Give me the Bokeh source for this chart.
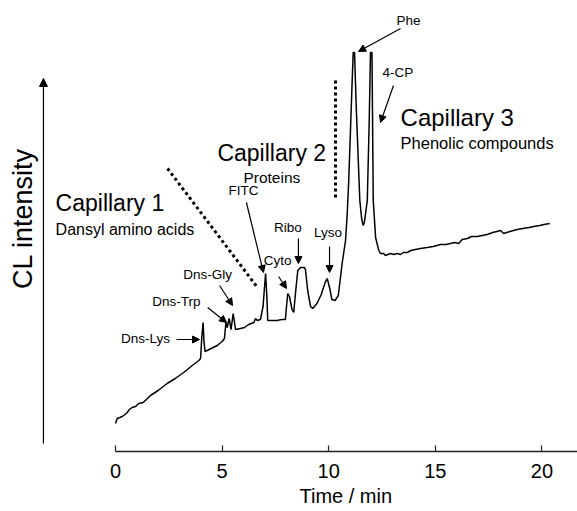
from math import pi
from bokeh.plotting import figure
from bokeh.models import Label, Arrow, NormalHead, Range1d, FixedTicker, Title
from bokeh.embed import file_html
from bokeh.resources import INLINE

# ---- data (time in min, CL intensity in arbitrary units) ----
time_min = [0.00, 0.08, 0.20, 0.31, 0.45, 0.55, 0.65, 0.78, 0.94, 1.09, 1.30, 1.45, 1.64, 2.00, 2.42,
            2.80, 3.20, 3.60, 3.91, 3.99, 4.05, 4.11, 4.15, 4.20, 4.30, 4.77, 5.00, 5.11, 5.18, 5.24,
            5.33, 5.42, 5.52, 5.63, 5.86, 6.05, 6.25, 6.49, 6.57, 6.65, 6.80, 6.92, 7.04, 7.10, 7.14,
            7.40, 7.58, 7.80, 7.97, 8.02, 8.08, 8.16, 8.28, 8.36, 8.45, 8.55, 8.68, 8.85, 8.91, 9.02,
            9.15, 9.25, 9.45, 9.65, 9.85, 9.93, 10.05, 10.15, 10.30, 10.45, 10.63, 10.79, 10.87, 10.94,
            11.02, 11.10, 11.15, 11.21, 11.30, 11.46, 11.55, 11.62, 11.68, 11.81, 11.90, 11.96, 12.03,
            12.09, 12.20, 12.35, 12.43, 12.58, 12.66, 12.90, 13.05, 13.21, 13.37, 13.50, 13.68, 13.85,
            14.07, 14.31, 14.62, 14.90, 15.24, 15.50, 15.71, 15.90, 16.10, 16.26, 16.50, 16.70, 16.97,
            17.20, 17.43, 17.70, 18.06, 18.21, 18.50, 18.84, 19.10, 19.40, 19.62, 19.90, 20.10, 20.37]
cl_intensity = [2.8, 3.3, 3.4, 3.5, 3.7, 3.9, 4.2, 4.4, 4.5, 4.8, 4.9, 5.2, 5.6, 6.1, 6.8,
                7.3, 7.9, 8.6, 9.1, 9.3, 11.5, 12.9, 11.0, 10.0, 10.1, 10.6, 11.0, 11.3, 12.9, 12.4,
                13.3, 12.2, 13.8, 12.2, 12.3, 12.4, 12.7, 12.9, 13.3, 13.1, 13.2, 14.5, 17.8, 15.5, 13.1,
                13.1, 13.1, 13.2, 13.2, 14.5, 15.8, 15.5, 14.2, 13.9, 16.0, 18.1, 18.4, 18.4, 18.2, 16.0,
                14.5, 14.3, 14.8, 15.7, 17.0, 17.3, 16.3, 15.2, 15.1, 15.6, 18.8, 21.1, 23.8, 27.1,
                32.0, 37.0, 39.9, 39.9, 34.0, 25.1, 23.2, 22.6, 23.0, 25.1, 33.0, 39.9, 39.9,
                25.1, 21.4, 20.1, 19.8, 19.8, 19.6, 19.8, 19.7, 19.8, 19.7, 19.9, 19.9, 20.1,
                20.2, 20.3, 20.4, 20.5, 20.7, 20.7, 20.8, 20.9, 20.8, 21.2, 21.3, 21.5, 21.5,
                21.6, 21.7, 21.9, 22.1, 21.8, 22.0, 22.2, 22.3, 22.4, 22.5, 22.6, 22.7, 22.8]

x_ticks = [0, 5, 10, 15, 20]
peak_names = ["Dns-Lys", "Dns-Trp", "Dns-Gly", "FITC", "Cyto", "Ribo", "Lyso", "Phe", "4-CP"]
capillary_titles = ["Capillary 1", "Capillary 2", "Capillary 3"]
capillary_subtitles = ["Dansyl amino acids", "Proteins", "Phenolic compounds"]
x_label = "Time / min"
y_label = "CL intensity"

FONT = "Liberation Sans"

p = figure(frame_width=577, frame_height=451, x_range=Range1d(-5.394, 21.67), y_range=Range1d(0, 45.1),
           output_backend="svg", toolbar_location=None, y_axis_location=None, min_border=0)
p.background_fill_color = "white"
p.border_fill_color = "white"
p.outline_line_color = None
p.xgrid.visible = False
p.ygrid.visible = False

ax = p.xaxis[0]
ax.bounds = (0, 21.67)
ax.ticker = FixedTicker(ticks=x_ticks)
ax.major_tick_in = 6
ax.major_tick_out = 0
ax.minor_tick_line_color = None
ax.axis_line_color = "#222222"
ax.axis_line_width = 1.3
ax.major_tick_line_color = "#222222"
ax.major_tick_line_width = 1.2
ax.major_label_text_font = FONT
ax.major_label_text_font_size = "20px"
ax.major_label_text_color = "black"
ax.major_label_standoff = 12

# x-axis title under the axis, centred on the drawn part of the axis as in the original
p.add_layout(Title(text=x_label, align="left", offset=299, text_font=FONT, text_font_size="20px",
                   text_font_style="normal", text_color="black", standoff=4), "below")

# trace
p.line(time_min, cl_intensity, line_color="black", line_width=1.5)

# y arrow + label
p.add_layout(Arrow(end=NormalHead(size=8, fill_color="black", line_color="black", line_width=1),
                   x_start=-3.38, y_start=0.8, x_end=-3.38, y_end=37.3, line_color="black", line_width=1.2))
p.add_layout(Label(x=-4.32, y=23.3, text=y_label, angle=pi / 2, text_align="center", text_baseline="middle",
                   text_font=FONT, text_font_size="27px", text_color="black"))

def lab(x, y, txt, size, align="center"):
    p.add_layout(Label(x=x, y=y, text=txt, text_align=align, text_baseline="middle",
                       text_font=FONT, text_font_size=size, text_color="black"))

def arr(x0, y0, x1, y1):
    p.add_layout(Arrow(end=NormalHead(size=7, fill_color="black", line_color="black", line_width=1),
                       x_start=x0, y_start=y0, x_end=x1, y_end=y1, line_color="black", line_width=1.2))

# capillary titles
lab(-2.81, 24.9, capillary_titles[0], "23px", "left")
lab(-2.81, 22.2, capillary_subtitles[0], "16px", "left")
lab(4.78, 29.9, capillary_titles[1], "23px", "left")
lab(6.0, 27.4, capillary_subtitles[1], "15.5px", "left")
lab(13.37, 33.4, capillary_titles[2], "24px", "left")
lab(13.37, 30.9, capillary_subtitles[2], "16.5px", "left")

# dotted separators
p.line([2.44, 6.66], [28.3, 16.4], line_color="black", line_width=3, line_dash="3 3")
p.line([10.32, 10.32], [37.1, 25.3], line_color="black", line_width=3, line_dash="3 3")

# peak labels and arrows
lab(1.41, 11.3, peak_names[0], "13.5px")
arr(2.86, 11.2, 3.94, 11.2)
lab(2.86, 15.0, peak_names[1], "13.5px")
arr(4.32, 14.4, 5.21, 12.9)
lab(4.32, 17.7, peak_names[2], "13.5px")
arr(4.88, 16.6, 5.49, 14.6)
lab(6.0, 26.1, peak_names[3], "13.5px")
arr(6.14, 24.9, 6.94, 17.9)
lab(7.60, 19.1, peak_names[4], "13.5px")
arr(7.65, 17.5, 8.02, 16.3)
lab(8.09, 22.4, peak_names[5], "13.5px")
arr(8.58, 21.3, 8.58, 18.8)
lab(9.97, 21.9, peak_names[6], "13.5px")
arr(10.04, 20.5, 10.04, 17.9)
lab(13.74, 43.1, peak_names[7], "13.5px")
arr(13.37, 42.3, 11.40, 40.0)
lab(13.25, 37.9, peak_names[8], "13.5px")
arr(13.04, 36.6, 12.43, 32.9)

open("out.html", "w").write(file_html(p, INLINE))
